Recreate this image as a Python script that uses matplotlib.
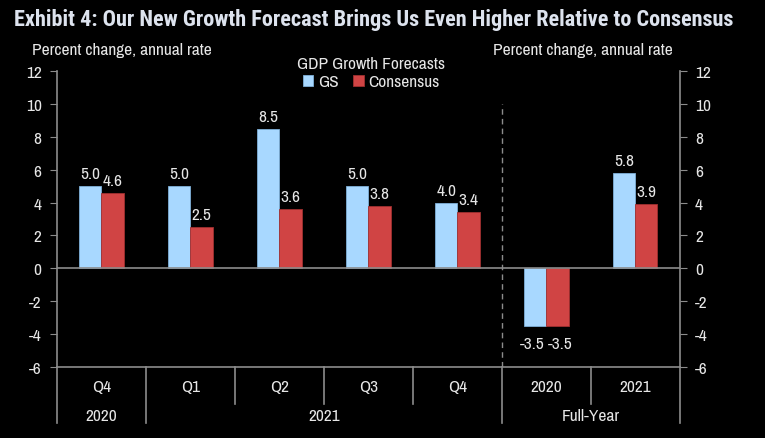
import matplotlib.pyplot as plt
import numpy as np

# data
quarters = ['Q4', 'Q1', 'Q2', 'Q3', 'Q4', '2020', '2021']
groups = ['2020', '2021', 'Full-Year']
group_bounds = [0, 1, 5, 7]
gs = [5.0, 5.0, 8.5, 5.0, 4.0, -3.5, 5.8]
consensus = [4.6, 2.5, 3.6, 3.8, 3.4, -3.5, 3.9]
y_ticks = [-6, -4, -2, 0, 2, 4, 6, 8, 10, 12]

plt.rcParams['font.family'] = ['Archivo Narrow', 'DejaVu Sans']
plt.rcParams['axes.unicode_minus'] = False
txt = '#e6e6e6'
grey = '#8c8c8c'
fs = 12.5

fig = plt.figure(figsize=(7.65, 4.39), dpi=100, facecolor='black')
ax = fig.add_axes([0.0745, 0.162, 0.814, 0.674])
ax.set_facecolor('black')

x = np.arange(len(quarters))
w = 0.25
b1 = ax.bar(x - w/2, gs, w, color='#a8d8ff', edgecolor='#7fb0d8', linewidth=0.6, label='GS')
b2 = ax.bar(x + w/2, consensus, w, color='#d04444', edgecolor='#a03030', linewidth=0.6, label='Consensus')

# value labels (negative ones nudged apart a little, they touch in the original)
for bars, nudge in ((b1, -0.03), (b2, 0.03)):
    for r in bars:
        v = r.get_height()
        cx = r.get_x() + r.get_width()/2
        if v >= 0:
            ax.text(cx, v + 0.3, f'{v:.1f}', ha='center', va='bottom', color=txt, fontsize=fs)
        else:
            ax.text(cx + nudge, v - 0.6, f'{v:.1f}', ha='center', va='top', color=txt, fontsize=fs)

ax.axhline(0, color=grey, linewidth=1.2)
ax.plot([4.5, 4.5], [-6, 10], color=grey, linestyle=(0, (4, 3)), linewidth=1)

ax.set_xlim(-0.5, 6.5)
ax.set_ylim(-6, 12)
ax.set_yticks(y_ticks)
ax.set_xticks([])
ax.tick_params(axis='y', colors=txt, labelsize=fs, length=5, color=grey,
               right=True, labelright=True, direction='out', pad=6)
ax.spines['top'].set_visible(False)
for s in ['left', 'right', 'bottom']:
    ax.spines[s].set_color(grey)
    ax.spines[s].set_linewidth(1.2)

# multi-level x axis
for i in range(len(quarters) + 1):
    xa = i / len(quarters)
    depth = -0.19 if i in group_bounds else -0.125
    ax.plot([xa, xa], [0, depth], transform=ax.transAxes, color=grey, linewidth=1.2, clip_on=False)
for i, q in enumerate(quarters):
    ax.text(i, -0.04, q, transform=ax.get_xaxis_transform(), ha='center', va='top', color=txt, fontsize=fs)
for j, g in enumerate(groups):
    mid = (group_bounds[j] + group_bounds[j + 1]) / 2 - 0.5
    ax.text(mid, -0.14, g, transform=ax.get_xaxis_transform(), ha='center', va='top', color=txt, fontsize=fs)

leg = ax.legend(loc='upper center', bbox_to_anchor=(0.505, 1.08), ncol=2, frameon=False,
                title='GDP Growth Forecasts', fontsize=fs, title_fontsize=fs,
                handlelength=0.6, handleheight=0.6, handletextpad=0.3, columnspacing=0.8,
                labelcolor=txt, borderpad=0, labelspacing=0.2)
leg.get_title().set_color(txt)

fig.text(0.042, 0.875, 'Percent change, annual rate', color=txt, fontsize=fs)
fig.text(0.644, 0.875, 'Percent change, annual rate', color=txt, fontsize=fs)
fig.text(0.018, 0.955, 'Exhibit 4: Our New Growth Forecast Brings Us Even Higher Relative to Consensus',
         color='#dde3ee', fontsize=16, fontweight='bold', va='center',
         family=['Roboto Condensed', 'DejaVu Sans'])

fig.savefig('out.png', dpi=100, facecolor='black')
